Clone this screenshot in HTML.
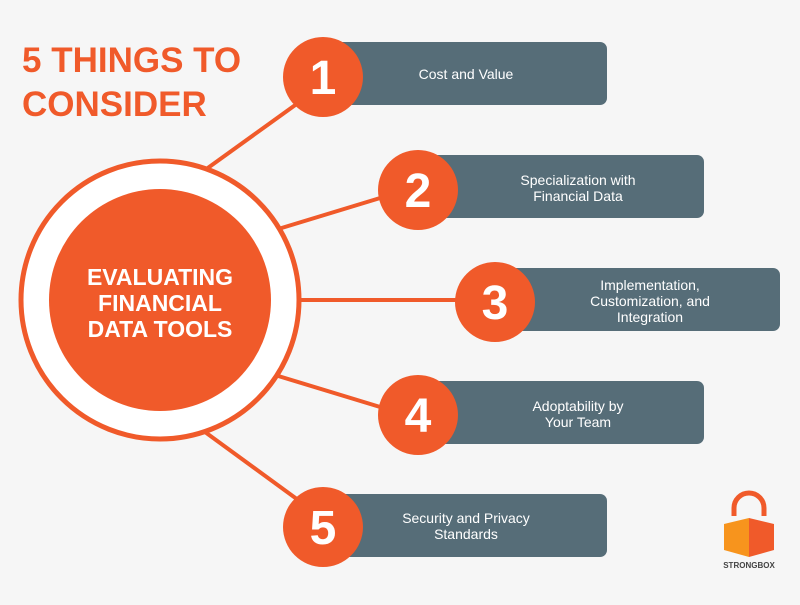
<!DOCTYPE html>
<html><head><style>
body{margin:0;width:800px;height:600px;background:#f6f6f6;overflow:hidden;font-family:"Liberation Sans",sans-serif;}
</style></head><body>
<svg width="800" height="600" xmlns="http://www.w3.org/2000/svg">
<rect width="800" height="600" fill="#f6f6f6"/>
<text x="22" y="72" font-family="Liberation Sans" font-weight="bold" font-size="35" fill="#f05a2a">5 THINGS TO</text>
<text x="22" y="116" font-family="Liberation Sans" font-weight="bold" font-size="35" fill="#f05a2a">CONSIDER</text>
<g stroke="#f05a2a" stroke-width="4">
<line x1="205" y1="170" x2="305" y2="98"/>
<line x1="275" y1="230" x2="390" y2="195"/>
<line x1="298" y1="300" x2="465" y2="300"/>
<line x1="275" y1="375" x2="390" y2="410"/>
<line x1="205" y1="432" x2="305" y2="505"/>
</g>
<circle cx="160" cy="300" r="139" fill="#fff" stroke="#f05a2a" stroke-width="5"/>
<circle cx="160" cy="300" r="111" fill="#f05a2a"/>
<g font-family="Liberation Sans" font-weight="bold" font-size="23" fill="#fff" text-anchor="middle">
<text x="160" y="285">EVALUATING</text>
<text x="160" y="311">FINANCIAL</text>
<text x="160" y="337">DATA TOOLS</text>
</g>
<g fill="#566d78">
<rect x="330" y="42" width="277" height="63" rx="7"/>
<rect x="425" y="155" width="279" height="63" rx="7"/>
<rect x="502" y="268" width="278" height="63" rx="7"/>
<rect x="425" y="381" width="279" height="63" rx="7"/>
<rect x="330" y="494" width="277" height="63" rx="7"/>
</g>
<g fill="#f05a2a">
<circle cx="323" cy="77" r="40"/>
<circle cx="418" cy="190" r="40"/>
<circle cx="495" cy="302" r="40"/>
<circle cx="418" cy="415" r="40"/>
<circle cx="323" cy="527" r="40"/>
</g>
<g font-family="Liberation Sans" font-weight="bold" font-size="48" fill="#fff" text-anchor="middle">
<text x="323" y="94">1</text>
<text x="418" y="207">2</text>
<text x="495" y="319">3</text>
<text x="418" y="432">4</text>
<text x="323" y="544">5</text>
</g>
<g font-family="Liberation Sans" font-size="14" fill="#fff" text-anchor="middle">
<text x="466" y="79">Cost and Value</text>
<text x="578" y="185">Specialization with</text>
<text x="578" y="201">Financial Data</text>
<text x="650" y="290">Implementation,</text>
<text x="650" y="306">Customization, and</text>
<text x="650" y="322">Integration</text>
<text x="578" y="411">Adoptability by</text>
<text x="578" y="427">Your Team</text>
<text x="466" y="523">Security and Privacy</text>
<text x="466" y="539">Standards</text>
</g>
<path d="M734 516 v-8 a15 15 0 0 1 30 0 v8" fill="none" stroke="#f05a2a" stroke-width="5"/>
<polygon points="724,524 749,518 749,557 724,550" fill="#f7941d"/>
<polygon points="749,518 774,524 774,550 749,557" fill="#f05a2a"/>
<text x="749" y="568" font-family="Liberation Sans" font-weight="bold" font-size="8" fill="#444" text-anchor="middle">STRONGBOX</text>
</svg>
</body></html>
